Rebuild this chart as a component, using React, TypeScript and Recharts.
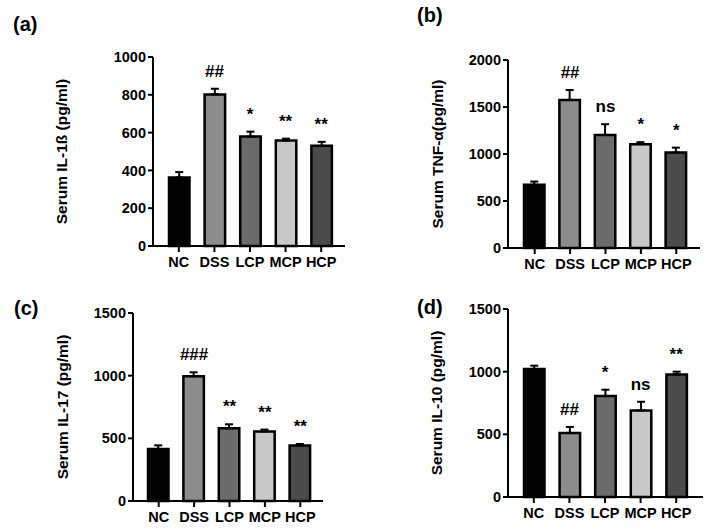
import {
  ComposedChart,
  Bar,
  Cell,
  ErrorBar,
  Line,
  LabelList,
  XAxis,
  YAxis,
} from "recharts";

const groups = ["NC", "DSS", "LCP", "MCP", "HCP"];
const groupColors = ["#000000", "#8c8c8c", "#6b6b6b", "#c8c8c8", "#4b4b4b"];

// (a) IL-1β
const il1bMean = [363, 802, 579, 558, 530];
const il1bSem = [28, 30, 26, 10, 21];
const il1bSig = ["", "##", "*", "**", "**"];
const il1bTicks = [0, 200, 400, 600, 800, 1000];

// (b) TNF-α
const tnfMean = [672, 1575, 1203, 1105, 1015];
const tnfSem = [35, 106, 114, 21, 53];
const tnfSig = ["", "##", "ns", "*", "*"];
const tnfTicks = [0, 500, 1000, 1500, 2000];

// (c) IL-17
const il17Mean = [415, 995, 580, 554, 442];
const il17Sem = [29, 32, 32, 16, 13];
const il17Sig = ["", "###", "**", "**", "**"];
const il17Ticks = [0, 500, 1000, 1500];

// (d) IL-10
const il10Mean = [1021, 511, 806, 691, 978];
const il10Sem = [27, 48, 50, 69, 22];
const il10Sig = ["", "##", "*", "ns", "**"];
const il10Ticks = [0, 500, 1000, 1500];

const axisStroke = { stroke: "#000", strokeWidth: 2 };
const tickText = { fill: "#000", fontSize: 14.5, fontWeight: 700 };

function Panel({
  letter,
  yLabel,
  mean,
  sem,
  sig,
  ticks,
  left,
  top,
  width,
  height,
  margin,
  axisWidth,
  labelX,
  letterX,
  letterY,
  pad,
}: any) {
  const data = groups.map((g, i) => ({
    group: g,
    mean: mean[i],
    err: [0, sem[i]],
    top: mean[i] + sem[i],
    sig: sig[i],
  }));

  return (
    <div style={{ position: "absolute", left, top, width, height }}>
      <ComposedChart width={width} height={height} data={data} margin={margin}>
        <XAxis
          dataKey="group"
          interval={0}
          axisLine={axisStroke}
          tickLine={axisStroke}
          tickSize={6}
          tickMargin={5}
          tick={tickText}
          padding={pad}
        />
        <YAxis
          width={axisWidth}
          domain={[0, ticks[ticks.length - 1]]}
          ticks={ticks}
          interval={0}
          axisLine={axisStroke}
          tickLine={axisStroke}
          tickSize={5}
          tickMargin={2}
          tick={tickText}
          label={{
            value: yLabel,
            angle: -90,
            position: "insideLeft",
            offset: labelX,
            style: { textAnchor: "middle", fontSize: 15.5, fontWeight: 700, fill: "#000" },
          }}
        />
        <Bar dataKey="mean" barSize={20.5} stroke="#000" strokeWidth={2.5} isAnimationActive={false}>
          {data.map((d, i) => (
            <Cell key={d.group} fill={groupColors[i]} />
          ))}
          <ErrorBar dataKey="err" direction="y" width={4} stroke="#000" strokeWidth={2} />
        </Bar>
        <Line
          dataKey="top"
          stroke="none"
          dot={false}
          activeDot={false}
          isAnimationActive={false}
        >
          <LabelList
            dataKey="sig"
            position="top"
            offset={12}
            fill="#000"
            fontSize={17}
            fontWeight={700}
          />
        </Line>
      </ComposedChart>
      <div
        style={{
          position: "absolute",
          left: letterX,
          top: letterY,
          fontSize: 20,
          fontWeight: 700,
          lineHeight: "20px",
        }}
      >
        {letter}
      </div>
    </div>
  );
}

export default function App() {
  return (
    <div
      style={{
        position: "fixed",
        left: 0,
        top: 0,
        width: 709,
        height: 532,
        background: "#fff",
        fontFamily: "'Liberation Sans', Arial, sans-serif",
        color: "#000",
      }}
    >
      <Panel
        letter="(a)"
        yLabel="Serum IL-1ß (pg/ml)"
        mean={il1bMean}
        sem={il1bSem}
        sig={il1bSig}
        ticks={il1bTicks}
        left={0}
        top={0}
        width={354}
        height={290}
        margin={{ top: 57, right: 9, bottom: 14, left: 0 }}
        axisWidth={153}
        labelX={61}
        letterX={13}
        letterY={14}
        pad={{ left: 8, right: 6 }}
      />
      <Panel
        letter="(b)"
        yLabel="Serum TNF-α(pg/ml)"
        mean={tnfMean}
        sem={tnfSem}
        sig={tnfSig}
        ticks={tnfTicks}
        left={354}
        top={0}
        width={355}
        height={290}
        margin={{ top: 60, right: 9, bottom: 12, left: 0 }}
        axisWidth={154}
        labelX={83}
        letterX={63}
        letterY={5}
        pad={{ left: 9, right: 6 }}
      />
      <Panel
        letter="(c)"
        yLabel="Serum IL-17 (pg/ml)"
        mean={il17Mean}
        sem={il17Sem}
        sig={il17Sig}
        ticks={il17Ticks}
        left={0}
        top={266}
        width={354}
        height={266}
        margin={{ top: 47, right: 31, bottom: 1, left: 0 }}
        axisWidth={133}
        labelX={62}
        letterX={14}
        letterY={32}
        pad={{ left: 8, right: 5 }}
      />
      <Panel
        letter="(d)"
        yLabel="Serum IL-10 (pg/ml)"
        mean={il10Mean}
        sem={il10Sem}
        sig={il10Sig}
        ticks={il10Ticks}
        left={354}
        top={266}
        width={355}
        height={266}
        margin={{ top: 43, right: 6, bottom: 5, left: 0 }}
        axisWidth={154}
        labelX={82}
        letterX={63}
        letterY={31}
        pad={{ left: 8, right: 9 }}
      />
    </div>
  );
}
